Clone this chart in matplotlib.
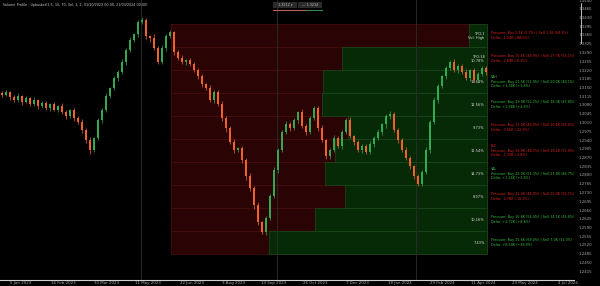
import matplotlib
matplotlib.use('Agg')
import matplotlib.pyplot as plt
from matplotlib.patches import Rectangle
from matplotlib.lines import Line2D
import numpy as np

# ---------------- data ----------------
closes = [
    1.3120, 1.3132, 1.3112, 1.3100, 1.3116, 1.3092, 1.3108, 1.3084, 1.3100, 1.3076,
    1.3088, 1.3068, 1.3084, 1.3060, 1.3076, 1.3052, 1.3036, 1.3060, 1.3028, 1.3012,
    1.2980, 1.2940, 1.2900, 1.2948, 1.3020, 1.3060, 1.3116, 1.3148, 1.3188, 1.3212,
    1.3252, 1.3300, 1.3340, 1.3364, 1.3412, 1.3420, 1.3356, 1.3348, 1.3308, 1.3252,
    1.3308, 1.3356, 1.3372, 1.3292, 1.3268, 1.3252, 1.3260, 1.3244, 1.3220, 1.3196,
    1.3164, 1.3148, 1.3100, 1.3132, 1.3084, 1.3028, 1.2988, 1.2932, 1.2900, 1.2908,
    1.2860, 1.2796, 1.2748, 1.2680, 1.2612, 1.2572, 1.2628, 1.2716, 1.2820, 1.2900,
    1.2972, 1.3004, 1.2988, 1.3020, 1.3052, 1.2996, 1.2972, 1.3028, 1.3068, 1.2988,
    1.2940, 1.2876, 1.2900, 1.2948, 1.2916, 1.2972, 1.3020, 1.2956, 1.2932, 1.2900,
    1.2916, 1.2892, 1.2924, 1.2948, 1.2972, 1.3004, 1.3036, 1.3044, 1.2980, 1.2940,
    1.2900, 1.2868, 1.2836, 1.2796, 1.2764, 1.2812, 1.2900, 1.3012, 1.3100, 1.3156,
    1.3196, 1.3228, 1.3252, 1.3220, 1.3236, 1.3212, 1.3188, 1.3220, 1.3180, 1.3204,
    1.3228, 1.3212,
]
wick_up_pips = [
    6, 10, 4, 8, 12, 5, 9, 6, 11, 4,
    7, 10, 5, 8, 6, 12, 9, 5, 7, 10,
    14, 8, 12, 6, 10, 8, 12, 6, 9, 7,
    11, 8, 14, 6, 10, 12, 8, 6, 15, 9,
    12, 7, 10, 6, 9, 12, 5, 8, 10, 7,
    9, 6, 14, 8, 10, 12, 7, 9, 11, 6,
    8, 10, 14, 9, 12, 6, 10, 8, 11, 7,
    9, 12, 8, 10, 6, 14, 9, 7, 10, 8,
    12, 6, 9, 11, 7, 10, 8, 12, 6, 9,
    10, 7, 12, 8, 14, 6, 9, 11, 8, 10,
    7, 12, 9, 6, 10, 8, 14, 7, 11, 9,
    6, 10, 8, 12, 7, 9, 11, 6, 10, 8,
    9, 7,
]
wick_dn_pips = [
    8, 5, 10, 6, 9, 12, 4, 8, 6, 10,
    9, 6, 12, 5, 8, 7, 10, 6, 11, 8,
    10, 12, 16, 9, 7, 10, 6, 9, 8, 11,
    7, 10, 6, 9, 12, 8, 10, 14, 7, 9,
    8, 12, 6, 10, 8, 7, 11, 9, 6, 10,
    12, 8, 9, 11, 7, 10, 14, 8, 12, 9,
    10, 14, 12, 16, 10, 8, 12, 9, 7, 10,
    8, 6, 11, 9, 12, 8, 10, 7, 9, 12,
    8, 10, 12, 7, 9, 11, 8, 6, 10, 9,
    12, 8, 7, 10, 9, 12, 14, 10, 8, 12,
    9, 7, 10, 12, 8, 6, 9, 11, 7, 10,
    8, 12, 9, 6, 10, 8, 7, 11, 9, 6,
    8, 10,
]

# volume profile zone
zone_first_bar = 42
zone_last_bar = 121
row_edges = [1.3404, 1.3312, 1.3220, 1.3128, 1.3036, 1.2944,
             1.2852, 1.2760, 1.2668, 1.2576, 1.2484]
buy_share = [0.057, 0.459, 0.519, 0.522, 0.440, 0.481, 0.513, 0.449, 0.544, 0.690]
row_volume_k = [1.4, 32.8, 41.5, 38.2, 29.6, 35.1, 44.8, 27.3, 30.9, 22.6]
row_headers = {2: "VAH", 5: "PoC", 6: "VAL"}

separators = [34.75, 68.75, 103.5]
x_tick_pos = [4.75, 15.25, 26.0, 36.5, 47.5, 57.75, 68.0, 78.25, 88.75, 99.5,
              110.0, 120.25, 130.75, 141.5]
x_tick_labels = ["5 Jan 2023", "16 Feb 2023", "30 Mar 2023", "11 May 2023",
                 "22 Jun 2023", "3 Aug 2023", "14 Sep 2023", "26 Oct 2023",
                 "7 Dec 2023", "18 Jan 2024", "29 Feb 2024", "11 Apr 2024",
                 "23 May 2024", "4 Jul 2024"]

title_text = ("Volume Profile \u00b7 Upbasket(1.5, 10, 70, Vol, 1, 2, "
              "01/10/2023 00:00, 21/03/2024 00:00)")

# ---------------- figure ----------------
UP = '#35a852'
DN = '#f0612e'
fig = plt.figure(figsize=(6.0, 2.86), dpi=100, facecolor='black')
ax = fig.add_axes([0, 6/286, 574/600, 280/286])
ax.set_facecolor('black')
ax.set_xlim(-0.5, 143.0)
ax.set_ylim(1.2380, 1.3500)

# zone
xs = zone_first_bar + 0.25
xe = zone_last_bar + 0.25
total_vol = sum(row_volume_k)
for r in range(len(buy_share)):
    top, bot = row_edges[r], row_edges[r + 1]
    h = top - bot
    ax.add_patch(Rectangle((xs, bot), xe - xs, h, fc='#2a0404', ec='#4a0f0f',
                           lw=0.5, zorder=1))
    gl = xe - buy_share[r] * (xe - xs)
    ax.add_patch(Rectangle((gl, bot), xe - gl, h, fc='#062906', ec='#1b4a1b',
                           lw=0.5, zorder=1.2))
    yc = (top + bot) / 2
    pct = row_volume_k[r] / total_vol * 100
    if r == 0:
        lab = "TPO:1\nVol: High"
    elif r == 1:
        lab = "TPO:38\n%.2f%%" % pct
    else:
        lab = "%.2f%%" % pct
    ax.text(xe - 0.6, yc, lab, ha='right', va='center', fontsize=2.6,
            color='#d8d8d8', linespacing=1.0, zorder=5)
    b = row_volume_k[r] * buy_share[r]
    s = row_volume_k[r] - b
    d = b - s
    col = '#e02020' if buy_share[r] < 0.5 else '#35c03a'
    lines = []
    if r in row_headers:
        lines.append(row_headers[r])
    lines.append("Pressure: Buy %.1fK (%.1f%%) | Sell %.1fK (%.1f%%)"
                 % (b, buy_share[r] * 100, s, (1 - buy_share[r]) * 100))
    lines.append("Delta: %+.2fK (%+.1f%%)" % (d, d / row_volume_k[r] * 100))
    ax.text(xe + 1.0, yc, "\n".join(lines), ha='left', va='center',
            fontsize=2.4, color=col, linespacing=1.1, zorder=5)

for sx in separators:
    ax.axvline(sx, color='#2c2c2c', lw=0.6, zorder=1.5)

# candles
x = np.arange(len(closes))
c = np.array(closes)
o = np.array([closes[0] + 0.0010] + closes[:-1])
hi = np.maximum(o, c) + np.array(wick_up_pips) * 0.0001
lo = np.minimum(o, c) - np.array(wick_dn_pips) * 0.0001
cols = [UP if cc >= oo else DN for oo, cc in zip(o, c)]
ax.vlines(x, lo, hi, colors=cols, lw=0.5, zorder=3)
body_bot = np.minimum(o, c)
body_h = np.maximum(np.abs(c - o), 0.0004)
ax.bar(x, body_h, bottom=body_bot, width=0.5, color=cols, lw=0, zorder=4)

# axes styling
for sp in ['top', 'left', 'right']:
    ax.spines[sp].set_visible(False)
ax.spines['bottom'].set_color('#cfcfcf')
ax.spines['bottom'].set_linewidth(0.8)
ax.yaxis.tick_right()
yt = np.arange(1.2415, 1.3500, 0.0035)
ax.set_yticks(yt)
ax.set_yticklabels(["%.4f" % v for v in yt])
ax.tick_params(axis='y', length=0, pad=3, labelsize=2.8, labelcolor='#a8a8a8')
ax.set_xticks(x_tick_pos)
ax.set_xticklabels(x_tick_labels)
ax.tick_params(axis='x', length=0, pad=1, labelsize=2.9, labelcolor='#a8a8a8')

# header items
fig.text(0.005, 1 - 5/286, title_text, fontsize=2.4, color='#c8c8c8',
         va='center', ha='left')
fig.add_artist(Rectangle((273/600, 1 - 8/286), 24/600, 6/286, fc='#2b2b2b',
                         ec='none', transform=fig.transFigure))
fig.add_artist(Rectangle((298/600, 1 - 8/286), 24/600, 6/286, fc='#2b2b2b',
                         ec='none', transform=fig.transFigure))
fig.text(285/600, 1 - 5/286, "1.3212 \u25be", fontsize=2.4, color='#bbbbbb',
         ha='center', va='center')
fig.text(310/600, 1 - 5/286, "\u2014 1.3214", fontsize=2.4, color='#bbbbbb',
         ha='center', va='center')
fig.add_artist(Line2D([273/600, 305/600], [1 - 10/286] * 2, color='#c0605a',
                      lw=0.8))
fig.add_artist(Line2D([306/600, 322/600], [1 - 10/286] * 2, color='#2e8a5a',
                      lw=0.8))
fig.add_artist(Line2D([581/600, 581/600], [1 - 3/286, 1 - 43/286],
                      color='#dddddd', lw=0.6))

fig.savefig('out.png', dpi=100, facecolor='black')
